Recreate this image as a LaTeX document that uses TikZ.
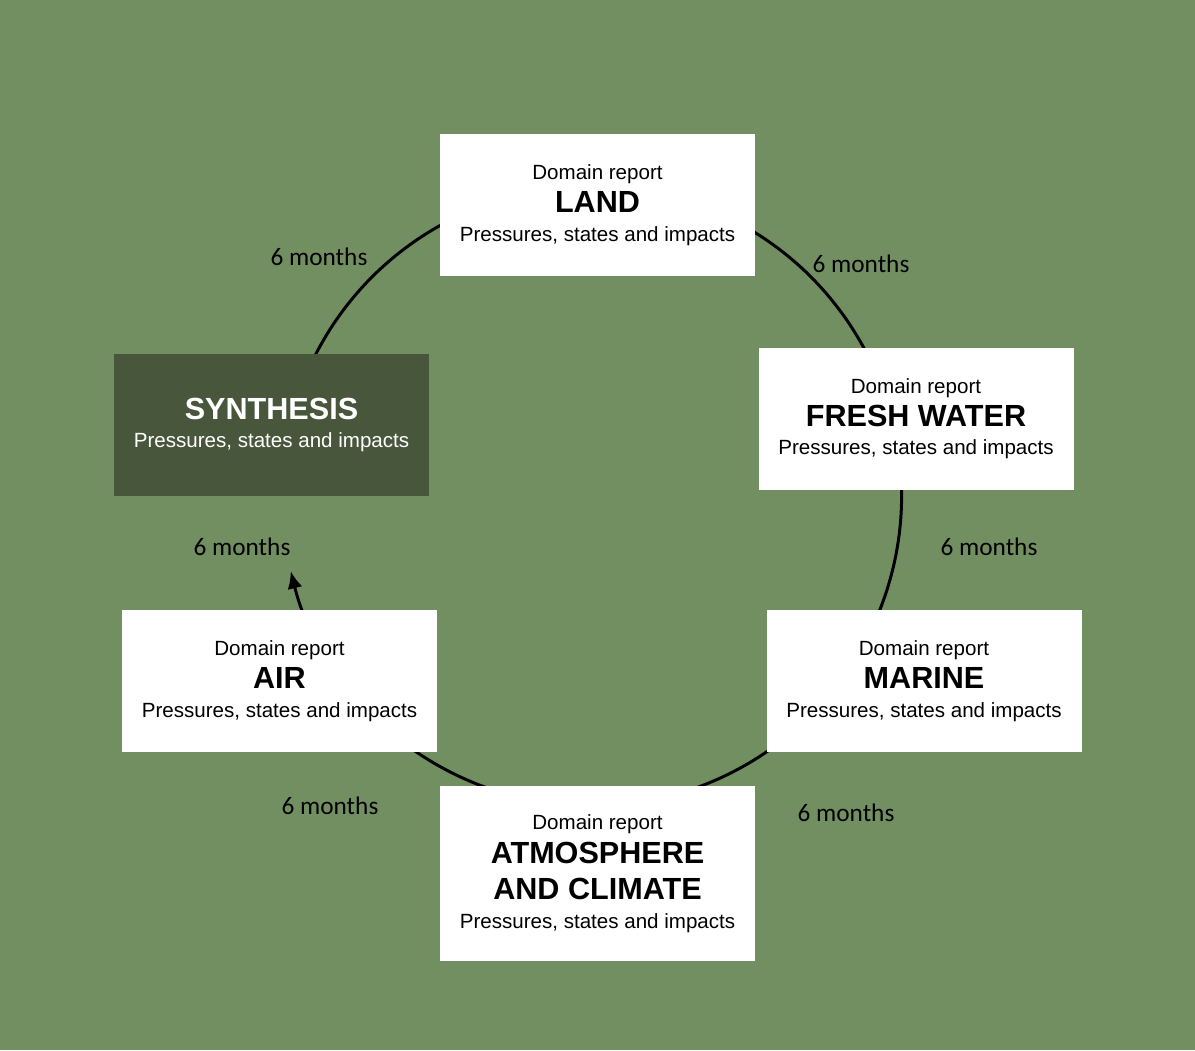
\documentclass[tikz,border=0pt]{standalone}
\usepackage{fontspec}
\setmainfont{Liberation Sans}
\newfontfamily\monthsfont{Carlito}
\usetikzlibrary{arrows.meta}

\definecolor{bggreen}{HTML}{728F62}
\definecolor{darkgreen}{HTML}{48573B}

\newcommand{\boxtext}{\fontsize{11.7}{16}\selectfont}
\newcommand{\bigname}{\fontsize{17.4}{20}\selectfont\bfseries}

\begin{document}
\begin{tikzpicture}
\tikzstyle{report}=[fill=white,minimum width=6.3cm,minimum height=2.84cm,inner sep=2pt,align=center,font=\boxtext]
\tikzstyle{months}=[font=\monthsfont\fontsize{14.4}{16}\selectfont]
\fill[bggreen] (0,0) rectangle (23.9,-21);
\useasboundingbox (0,0) rectangle (23.9,-21);
\coordinate (c) at (11.83,-9.92);
\draw[line width=1.7pt,-{Latex[length=3.5mm,width=3mm]}] (c) ++(160:6.2cm) arc[start angle=160,end angle=-166,radius=6.2cm];
\node[report] (land) at (11.95,-4.1) {Domain report\\[3pt]{\bigname LAND}\\[0pt]Pressures, states and impacts};
\node[report] (fresh) at (18.32,-8.37) {Domain report\\[3pt]{\bigname FRESH WATER}\\[0pt]Pressures, states and impacts};
\node[report] (marine) at (18.48,-13.62) {Domain report\\[3pt]{\bigname MARINE}\\[0pt]Pressures, states and impacts};
\node[report,minimum height=3.5cm] (atmos) at (11.95,-17.47) {Domain report\\[3pt]{\bigname ATMOSPHERE}\\[5pt]{\bigname AND CLIMATE}\\[0pt]Pressures, states and impacts};
\node[report] (air) at (5.59,-13.62) {Domain report\\[3pt]{\bigname AIR}\\[0pt]Pressures, states and impacts};
\node[report,fill=darkgreen,text=white] (synth) at (5.43,-8.5) {{\bigname SYNTHESIS}\\[0pt]Pressures, states and impacts};
\node[months] (m1) at (17.22,-5.28) {6 months};
\node[months] (m2) at (19.78,-10.94) {6 months};
\node[months] (m3) at (16.92,-16.26) {6 months};
\node[months] (m4) at (6.6,-16.12) {6 months};
\node[months] (m5) at (4.84,-10.94) {6 months};
\node[months] (m6) at (6.38,-5.14) {6 months};
\end{tikzpicture}
\end{document}
